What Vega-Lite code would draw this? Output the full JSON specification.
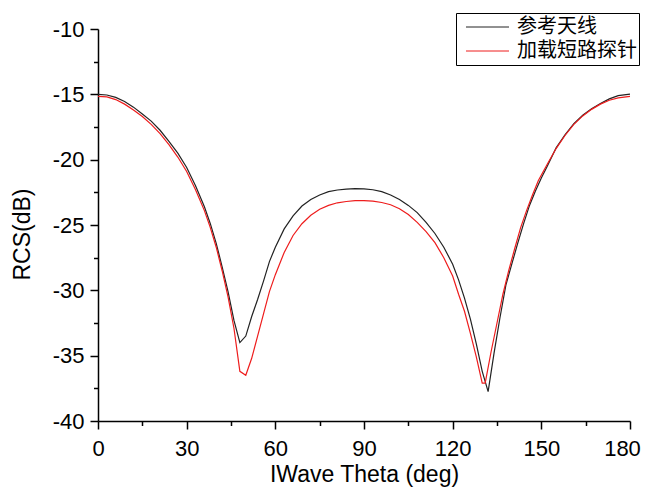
{
  "$schema": "https://vega.github.io/schema/vega-lite/v6.json",
  "autosize": "none",
  "width": 532,
  "height": 392,
  "padding": {"left": 98, "top": 29, "right": 15, "bottom": 67},
  "background": "white",
  "config": {
    "view": {"stroke": null},
    "axis": {
      "grid": false,
      "domainColor": "black",
      "domainWidth": 1.5,
      "tickColor": "black",
      "tickWidth": 1.5,
      "labelColor": "black",
      "labelFont": "Liberation Sans",
      "labelFontSize": 22,
      "titleFont": "Liberation Sans",
      "titleFontSize": 23,
      "titleFontWeight": "normal",
      "titleColor": "black"
    }
  },
  "data": {
    "values": [
      {"theta": 0, "rcs": -15.0, "series": "参考天线"},
      {"theta": 3, "rcs": -15.05, "series": "参考天线"},
      {"theta": 6, "rcs": -15.23, "series": "参考天线"},
      {"theta": 9, "rcs": -15.55, "series": "参考天线"},
      {"theta": 12, "rcs": -15.98, "series": "参考天线"},
      {"theta": 15, "rcs": -16.5, "series": "参考天线"},
      {"theta": 18, "rcs": -17.05, "series": "参考天线"},
      {"theta": 21, "rcs": -17.75, "series": "参考天线"},
      {"theta": 24, "rcs": -18.6, "series": "参考天线"},
      {"theta": 27, "rcs": -19.5, "series": "参考天线"},
      {"theta": 30, "rcs": -20.6, "series": "参考天线"},
      {"theta": 33, "rcs": -22.0, "series": "参考天线"},
      {"theta": 36, "rcs": -23.6, "series": "参考天线"},
      {"theta": 38, "rcs": -24.9, "series": "参考天线"},
      {"theta": 40, "rcs": -26.4, "series": "参考天线"},
      {"theta": 42, "rcs": -28.2, "series": "参考天线"},
      {"theta": 44, "rcs": -30.1, "series": "参考天线"},
      {"theta": 46, "rcs": -32.3, "series": "参考天线"},
      {"theta": 48, "rcs": -34.0, "series": "参考天线"},
      {"theta": 50, "rcs": -33.5, "series": "参考天线"},
      {"theta": 52, "rcs": -32.0, "series": "参考天线"},
      {"theta": 54, "rcs": -30.7, "series": "参考天线"},
      {"theta": 56, "rcs": -29.3, "series": "参考天线"},
      {"theta": 58, "rcs": -27.8, "series": "参考天线"},
      {"theta": 60, "rcs": -26.7, "series": "参考天线"},
      {"theta": 63, "rcs": -25.3, "series": "参考天线"},
      {"theta": 66, "rcs": -24.3, "series": "参考天线"},
      {"theta": 69, "rcs": -23.55, "series": "参考天线"},
      {"theta": 72, "rcs": -23.05, "series": "参考天线"},
      {"theta": 75, "rcs": -22.7, "series": "参考天线"},
      {"theta": 78, "rcs": -22.45, "series": "参考天线"},
      {"theta": 81, "rcs": -22.32, "series": "参考天线"},
      {"theta": 84, "rcs": -22.25, "series": "参考天线"},
      {"theta": 87, "rcs": -22.22, "series": "参考天线"},
      {"theta": 90, "rcs": -22.23, "series": "参考天线"},
      {"theta": 93, "rcs": -22.3, "series": "参考天线"},
      {"theta": 96, "rcs": -22.45, "series": "参考天线"},
      {"theta": 99, "rcs": -22.7, "series": "参考天线"},
      {"theta": 102, "rcs": -23.05, "series": "参考天线"},
      {"theta": 105, "rcs": -23.5, "series": "参考天线"},
      {"theta": 108, "rcs": -24.05, "series": "参考天线"},
      {"theta": 111, "rcs": -24.8, "series": "参考天线"},
      {"theta": 114, "rcs": -25.65, "series": "参考天线"},
      {"theta": 117, "rcs": -26.7, "series": "参考天线"},
      {"theta": 120, "rcs": -28.0, "series": "参考天线"},
      {"theta": 122, "rcs": -29.2, "series": "参考天线"},
      {"theta": 124, "rcs": -30.6, "series": "参考天线"},
      {"theta": 126, "rcs": -32.2, "series": "参考天线"},
      {"theta": 128, "rcs": -34.1, "series": "参考天线"},
      {"theta": 130, "rcs": -36.2, "series": "参考天线"},
      {"theta": 132, "rcs": -37.75, "series": "参考天线"},
      {"theta": 134, "rcs": -34.8, "series": "参考天线"},
      {"theta": 136, "rcs": -32.1, "series": "参考天线"},
      {"theta": 138, "rcs": -29.6, "series": "参考天线"},
      {"theta": 140, "rcs": -28.0, "series": "参考天线"},
      {"theta": 142, "rcs": -26.4, "series": "参考天线"},
      {"theta": 144, "rcs": -24.9, "series": "参考天线"},
      {"theta": 146, "rcs": -23.5, "series": "参考天线"},
      {"theta": 148, "rcs": -22.4, "series": "参考天线"},
      {"theta": 150, "rcs": -21.4, "series": "参考天线"},
      {"theta": 152, "rcs": -20.5, "series": "参考天线"},
      {"theta": 155, "rcs": -19.1, "series": "参考天线"},
      {"theta": 158, "rcs": -18.1, "series": "参考天线"},
      {"theta": 161, "rcs": -17.25, "series": "参考天线"},
      {"theta": 164, "rcs": -16.6, "series": "参考天线"},
      {"theta": 167, "rcs": -16.1, "series": "参考天线"},
      {"theta": 170, "rcs": -15.7, "series": "参考天线"},
      {"theta": 173, "rcs": -15.35, "series": "参考天线"},
      {"theta": 176, "rcs": -15.1, "series": "参考天线"},
      {"theta": 180, "rcs": -14.98, "series": "参考天线"},
      {"theta": 0, "rcs": -15.15, "series": "加载短路探针"},
      {"theta": 3, "rcs": -15.2, "series": "加载短路探针"},
      {"theta": 6, "rcs": -15.4, "series": "加载短路探针"},
      {"theta": 9, "rcs": -15.75, "series": "加载短路探针"},
      {"theta": 12, "rcs": -16.2, "series": "加载短路探针"},
      {"theta": 15, "rcs": -16.7, "series": "加载短路探针"},
      {"theta": 18, "rcs": -17.3, "series": "加载短路探针"},
      {"theta": 21, "rcs": -18.0, "series": "加载短路探针"},
      {"theta": 24, "rcs": -18.85, "series": "加载短路探针"},
      {"theta": 27, "rcs": -19.8, "series": "加载短路探针"},
      {"theta": 30, "rcs": -20.9, "series": "加载短路探针"},
      {"theta": 33, "rcs": -22.3, "series": "加载短路探针"},
      {"theta": 36, "rcs": -23.9, "series": "加载短路探针"},
      {"theta": 38, "rcs": -25.2, "series": "加载短路探针"},
      {"theta": 40, "rcs": -26.7, "series": "加载短路探针"},
      {"theta": 42, "rcs": -28.5, "series": "加载短路探针"},
      {"theta": 44, "rcs": -30.5, "series": "加载短路探针"},
      {"theta": 46, "rcs": -32.9, "series": "加载短路探针"},
      {"theta": 48, "rcs": -36.2, "series": "加载短路探针"},
      {"theta": 50, "rcs": -36.5, "series": "加载短路探针"},
      {"theta": 52, "rcs": -35.2, "series": "加载短路探针"},
      {"theta": 54, "rcs": -33.5, "series": "加载短路探针"},
      {"theta": 56, "rcs": -31.8, "series": "加载短路探针"},
      {"theta": 58, "rcs": -30.1, "series": "加载短路探针"},
      {"theta": 60, "rcs": -28.8, "series": "加载短路探针"},
      {"theta": 63, "rcs": -27.1, "series": "加载短路探针"},
      {"theta": 66, "rcs": -25.8, "series": "加载短路探针"},
      {"theta": 69, "rcs": -24.9, "series": "加载短路探针"},
      {"theta": 72, "rcs": -24.25, "series": "加载短路探针"},
      {"theta": 75, "rcs": -23.8, "series": "加载短路探针"},
      {"theta": 78, "rcs": -23.5, "series": "加载短路探针"},
      {"theta": 81, "rcs": -23.3, "series": "加载短路探针"},
      {"theta": 84, "rcs": -23.2, "series": "加载短路探针"},
      {"theta": 87, "rcs": -23.14, "series": "加载短路探针"},
      {"theta": 90, "rcs": -23.13, "series": "加载短路探针"},
      {"theta": 93, "rcs": -23.17, "series": "加载短路探针"},
      {"theta": 96, "rcs": -23.28, "series": "加载短路探针"},
      {"theta": 99, "rcs": -23.45, "series": "加载短路探针"},
      {"theta": 102, "rcs": -23.75, "series": "加载短路探针"},
      {"theta": 105, "rcs": -24.2, "series": "加载短路探针"},
      {"theta": 108, "rcs": -24.8, "series": "加载短路探针"},
      {"theta": 111, "rcs": -25.5, "series": "加载短路探针"},
      {"theta": 114, "rcs": -26.35, "series": "加载短路探针"},
      {"theta": 117, "rcs": -27.5, "series": "加载短路探针"},
      {"theta": 120, "rcs": -28.9, "series": "加载短路探针"},
      {"theta": 122, "rcs": -30.3, "series": "加载短路探针"},
      {"theta": 124, "rcs": -31.6, "series": "加载短路探针"},
      {"theta": 126, "rcs": -33.3, "series": "加载短路探针"},
      {"theta": 128, "rcs": -35.1, "series": "加载短路探针"},
      {"theta": 130, "rcs": -37.1, "series": "加载短路探针"},
      {"theta": 131, "rcs": -37.1, "series": "加载短路探针"},
      {"theta": 133, "rcs": -34.7, "series": "加载短路探针"},
      {"theta": 135, "rcs": -32.5, "series": "加载短路探针"},
      {"theta": 137, "rcs": -30.3, "series": "加载短路探针"},
      {"theta": 139, "rcs": -28.45, "series": "加载短路探针"},
      {"theta": 141, "rcs": -26.8, "series": "加载短路探针"},
      {"theta": 143, "rcs": -25.2, "series": "加载短路探针"},
      {"theta": 145, "rcs": -23.9, "series": "加载短路探针"},
      {"theta": 147, "rcs": -22.7, "series": "加载短路探针"},
      {"theta": 149, "rcs": -21.6, "series": "加载短路探针"},
      {"theta": 152, "rcs": -20.35, "series": "加载短路探针"},
      {"theta": 155, "rcs": -19.15, "series": "加载短路探针"},
      {"theta": 158, "rcs": -18.15, "series": "加载短路探针"},
      {"theta": 161, "rcs": -17.3, "series": "加载短路探针"},
      {"theta": 164, "rcs": -16.65, "series": "加载短路探针"},
      {"theta": 167, "rcs": -16.15, "series": "加载短路探针"},
      {"theta": 170, "rcs": -15.75, "series": "加载短路探针"},
      {"theta": 173, "rcs": -15.45, "series": "加载短路探针"},
      {"theta": 176, "rcs": -15.27, "series": "加载短路探针"},
      {"theta": 180, "rcs": -15.15, "series": "加载短路探针"}
    ]
  },
  "mark": {"type": "line", "strokeWidth": 1.2},
  "encoding": {
    "x": {
      "field": "theta",
      "type": "quantitative",
      "scale": {"domain": [0, 180], "nice": false},
      "axis": {
        "title": "IWave Theta (deg)",
        "values": [0, 15, 30, 45, 60, 75, 90, 105, 120, 135, 150, 165, 180],
        "labelExpr": "datum.value % 30 === 0 ? toString(datum.value) : ''",
        "tickSize": {"condition": {"test": "datum.value % 30 === 0", "value": 8}, "value": 4.5},
        "labelOffset": {"condition": {"test": "datum.value === 180", "value": -8}, "value": 0},
        "labelPadding": 9,
        "titlePadding": 4,
        "labelFlush": false,
        "labelOverlap": false
      }
    },
    "y": {
      "field": "rcs",
      "type": "quantitative",
      "scale": {"domain": [-40, -10], "nice": false},
      "axis": {
        "title": "RCS(dB)",
        "values": [-40, -37.5, -35, -32.5, -30, -27.5, -25, -22.5, -20, -17.5, -15, -12.5, -10],
        "labelExpr": "datum.value % 5 === 0 ? toString(datum.value) : ''",
        "tickSize": {"condition": {"test": "datum.value % 5 === 0", "value": 8}, "value": 4.5},
        "labelPadding": 6,
        "titlePadding": 18,
        "titleY": 205,
        "labelFlush": false,
        "labelOverlap": false
      }
    },
    "color": {
      "field": "series",
      "type": "nominal",
      "scale": {"domain": ["参考天线", "加载短路探针"], "range": ["#222222", "#ee1c1c"]},
      "legend": {
        "orient": "none",
        "legendX": 358,
        "legendY": -16,
        "title": null,
        "strokeColor": "black",
        "fillColor": "white",
        "padding": 2,
        "symbolType": "stroke",
        "symbolSize": 1850,
        "symbolStrokeWidth": 1,
        "symbolOffset": 7,
        "clipHeight": 24,
        "labelFont": "Noto Sans CJK SC",
        "labelFontSize": 20,
        "labelColor": "black",
        "labelOffset": 7,
        "labelLimit": 300,
        "rowPadding": 0
      }
    }
  }
}
